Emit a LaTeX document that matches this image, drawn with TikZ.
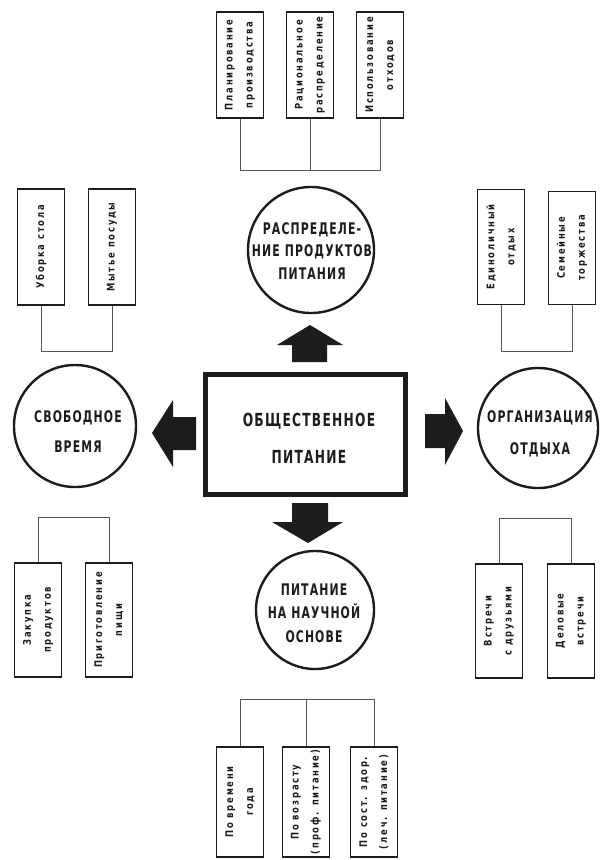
\documentclass[tikz,border=0pt]{standalone}
\usepackage{fontspec}
\newfontfamily\labf[FakeStretch=0.68,LetterSpace=7]{DejaVu Sans}
\newfontfamily\leaff[FakeStretch=0.8,LetterSpace=17]{DejaVu Sans}
\definecolor{ink}{HTML}{1C1C1C}
\definecolor{thin}{HTML}{555555}
\begin{document}
\begin{tikzpicture}[x=1pt,y=-1pt,
  circ/.style={draw=ink, line width=2.4pt, circle, inner sep=0pt},
  big/.style={align=center, inner sep=0pt, text=ink},
  leaf/.style={draw=ink, line width=1.8pt, fill=white, rotate=90, minimum height=47pt,
    inner sep=1pt, align=center, text=ink, font=\leaff\bfseries\fontsize{10.5}{20}\selectfont},
  link/.style={draw=thin, line width=0.9pt},
  fat/.style={fill=ink}]
\fill[white] (0,0) rectangle (601,860);
\useasboundingbox (0,0) rectangle (601,860);

% central box
\node[draw=ink, line width=4.5pt, minimum width=200pt, minimum height=120pt, inner sep=0pt] (main) at (305.5,434.5) {};
\node[big, font=\labf\bfseries\fontsize{18}{37}\selectfont] (mainT) at (309,438) {ОБЩЕСТВЕННОЕ\\ПИТАНИЕ};

% circles
\node[circ, minimum size=126pt] (cTop) at (311,250) {};
\node[big, font=\labf\bfseries\fontsize{16}{22.5}\selectfont] (tTop) at (312,251) {РАСПРЕДЕЛЕ-\\НИЕ ПРОДУКТОВ\\ПИТАНИЯ};
\node[circ, minimum size=122pt] (cLeft) at (75,426) {};
\node[big, font=\labf\bfseries\fontsize{16}{30}\selectfont] (tLeft) at (78,432) {СВОБОДНОЕ\\ВРЕМЯ};
\node[circ, minimum size=120pt] (cRight) at (538,428) {};
\node[big, font=\labf\bfseries\fontsize{16}{32}\selectfont] (tRight) at (540,434) {ОРГАНИЗАЦИЯ\\ОТДЫХА};
\node[circ, minimum size=118pt] (cBot) at (315,610) {};
\node[big, font=\labf\bfseries\fontsize{16}{23.5}\selectfont] (tBot) at (314,613) {ПИТАНИЕ\\НА НАУЧНОЙ\\ОСНОВЕ};

% fat arrows
\fill[fat] (310,325) -- (343,345) -- (327,345) -- (327,362) -- (292,362) -- (292,345) -- (277,345) -- cycle;
\fill[fat] (308,543) -- (343,522) -- (328,522) -- (328,503) -- (292,503) -- (292,522) -- (272,522) -- cycle;
\fill[fat] (152,433) -- (173,400) -- (173,417) -- (196,417) -- (196,450) -- (173,450) -- (173,467) -- cycle;
\fill[fat] (463,431) -- (445,398) -- (445,414) -- (425,414) -- (425,448) -- (445,448) -- (445,465) -- cycle;

% top leaves
\node[leaf, minimum width=106pt] (T1) at (240,65) {Планирование\\производства};
\node[leaf, minimum width=106pt] (T2) at (310,65) {Рациональное\\распределение};
\node[leaf, minimum width=106pt] (T3) at (380,65) {Использование\\отходов};
\coordinate (topbar) at (0,170);
\draw[link] (T1.west) -- (T1.west |- topbar) -- (T3.west |- topbar) -- (T3.west);
\draw[link] (T2.west) -- (T2.west |- topbar);

% top-left leaves
\node[leaf, minimum width=116pt] (L1) at (41,247) {Уборка стола};
\node[leaf, minimum width=116pt] (L2) at (112,247) {Мытье посуды};
\coordinate (lbar) at (0,351);
\draw[link] (L1.west) -- (L1.west |- lbar) -- (L2.west |- lbar) -- (L2.west);

% top-right leaves
\node[leaf, minimum width=115pt] (R1) at (501,247) {Единоличный\\отдых};
\node[leaf, minimum width=113pt] (R2) at (572,248) {Семейные\\торжества};
\coordinate (rbar) at (0,351);
\draw[link] (R1.west) -- (R1.west |- rbar) -- (R2.west |- rbar) -- (R2.west);

% bottom-left leaves
\node[leaf, minimum width=114pt] (BL1) at (38,620) {Закупка\\продуктов};
\node[leaf, minimum width=114pt] (BL2) at (109,620) {Приготовление\\пищи};
\coordinate (blbar) at (0,517);
\draw[link] (BL1.east) -- (BL1.east |- blbar) -- (BL2.east |- blbar) -- (BL2.east);

% bottom-right leaves
\node[leaf, minimum width=114pt] (BR1) at (499,621) {Встречи\\с друзьями};
\node[leaf, minimum width=114pt] (BR2) at (571,621) {Деловые\\встречи};
\coordinate (brbar) at (0,518);
\draw[link] (BR1.east) -- (BR1.east |- brbar) -- (BR2.east |- brbar) -- (BR2.east);

% bottom leaves
\node[leaf, minimum width=110pt] (B1) at (240,802) {По времени\\года};
\node[leaf, minimum width=110pt] (B2) at (306,802) {По возрасту\\(проф. питание)};
\node[leaf, minimum width=110pt] (B3) at (374,802) {По сост. здор.\\(леч. питание)};
\coordinate (bbar) at (0,699);
\draw[link] (B1.east) -- (B1.east |- bbar) -- (B3.east |- bbar) -- (B3.east);
\draw[link] (B2.east) -- (B2.east |- bbar);
\end{tikzpicture}
\end{document}
